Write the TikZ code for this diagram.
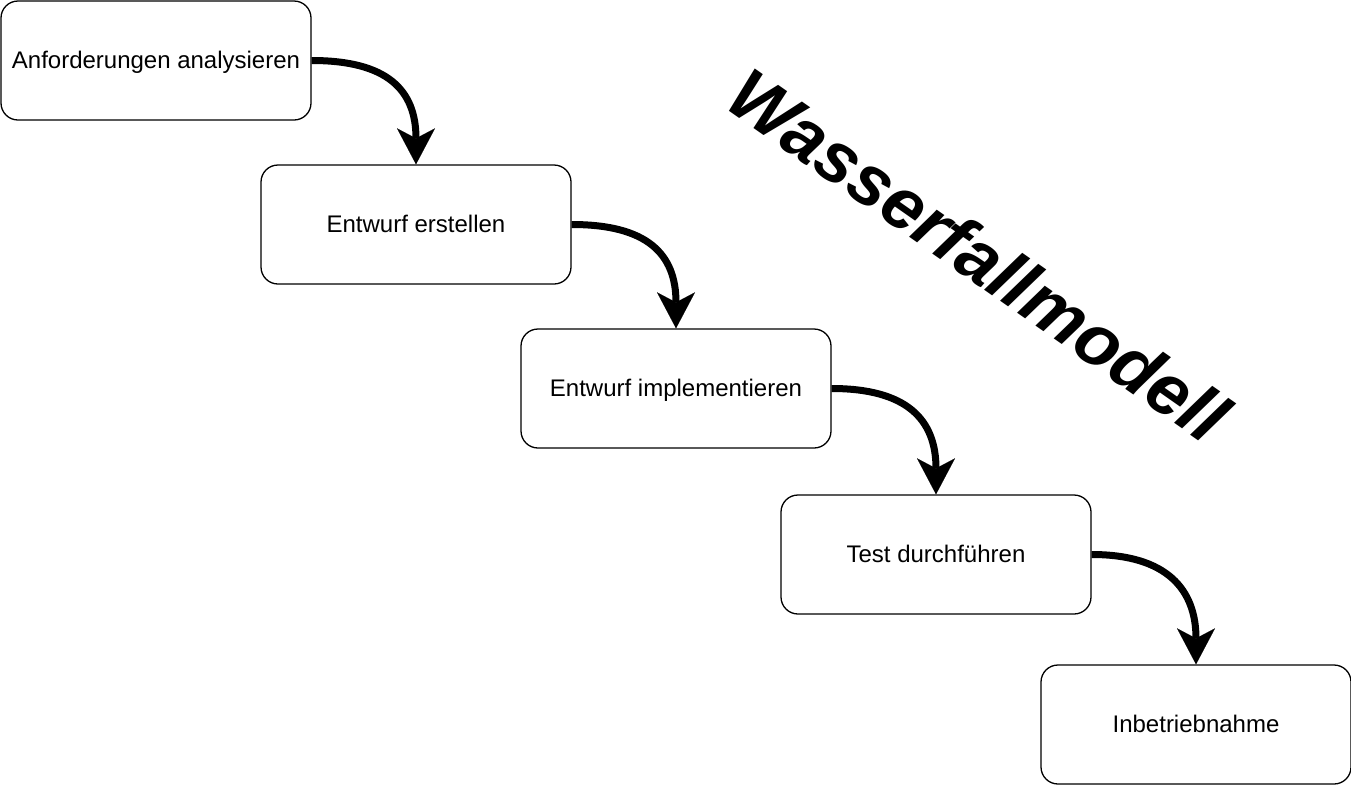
\documentclass[tikz,border=0pt]{standalone}
\usepackage{fontspec}
\setmainfont{Liberation Sans}
\usetikzlibrary{arrows.meta}
\begin{document}
\begin{tikzpicture}[x=1pt,y=-1pt,
  stepbox/.style={draw=black,line width=1.3pt,rounded corners=17pt,minimum width=310pt,minimum height=119pt,inner sep=0pt,text height=20pt,text depth=5pt,font=\fontsize{24}{28}\selectfont,fill=white},
  flow/.style={line width=7pt,-{Stealth[length=36pt,width=38pt,inset=10pt,line width=0.1pt]}}]
\useasboundingbox (0,0) rectangle (1351,785);
\node[stepbox] (b1) at (156,60.5) {Anforderungen analysieren};
\node[stepbox] (b2) at (416,224.5) {Entwurf erstellen};
\node[stepbox] (b3) at (676,388.5) {Entwurf implementieren};
\node[stepbox] (b4) at (936,554.5) {Test durchführen};
\node[stepbox] (b5) at (1196,724.5) {Inbetriebnahme};
\draw[flow] (b1.east) .. controls +(75,0) and +(0,-75) .. (b2.north);
\draw[flow] (b2.east) .. controls +(75,0) and +(0,-75) .. (b3.north);
\draw[flow] (b3.east) .. controls +(75,0) and +(0,-75) .. (b4.north);
\draw[flow] (b4.east) .. controls +(75,0) and +(0,-75) .. (b5.north);
\node[rotate=-35,font=\fontsize{72}{80}\selectfont\bfseries\itshape] (title) at (979,255) {Wasserfallmodell};
\end{tikzpicture}
\end{document}
